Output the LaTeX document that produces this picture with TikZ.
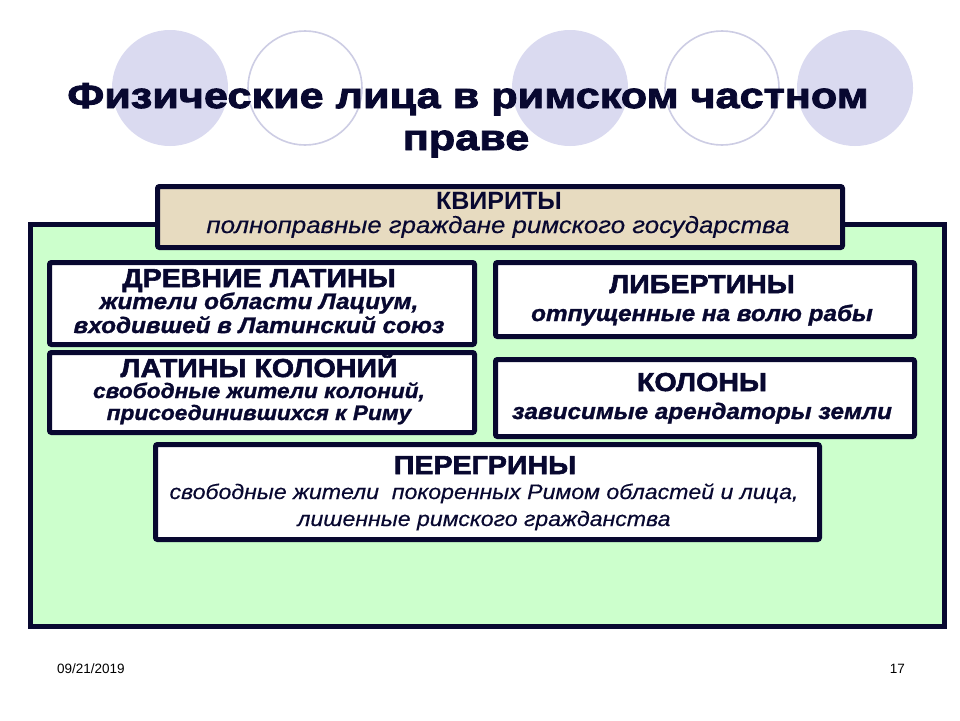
\documentclass[tikz,border=0pt]{standalone}
\usepackage{fontspec}
\setmainfont{Liberation Sans}
\newfontfamily\titlef{Liberation Sans}[FakeBold=2.5,FakeStretch=1.2]
\newfontfamily\headf{Liberation Sans}[FakeBold=2.2,FakeStretch=1.1]
\newfontfamily\subbf{Liberation Sans}[FakeBold=1.2,FakeStretch=1.08]
\newfontfamily\subrf{Liberation Sans}[FakeBold=0.4,FakeStretch=1.1]
\definecolor{navy}{RGB}{8,8,48}
\definecolor{lav}{RGB}{218,218,240}
\definecolor{lavline}{RGB}{205,205,228}
\definecolor{mint}{RGB}{204,255,204}
\definecolor{parch}{RGB}{231,219,192}
\tikzset{
  bigcirc/.style={circle, fill=lav, minimum size=116pt, inner sep=0},
  ringcirc/.style={circle, draw=lavline, line width=1.6pt, fill=white, minimum size=114pt, inner sep=0},
  catbox/.style={draw=navy, line width=5pt, fill=white, rounded corners=2pt, anchor=north west, inner sep=0},
  txt/.style={anchor=base, text=navy, inner sep=0},
  ttl/.style={txt, font=\titlef\bfseries\fontsize{36}{40}\selectfont},
  hd/.style={txt, font=\headf\bfseries\fontsize{26}{30}\selectfont},
  sub/.style={txt, font=\subbf\bfseries\itshape\fontsize{22.5}{24}\selectfont},
  subs/.style={txt, font=\subbf\bfseries\itshape\fontsize{21}{24}\selectfont},
  subr/.style={txt, font=\subrf\itshape\fontsize{21}{24}\selectfont},
  foot/.style={anchor=base, inner sep=0, text=black, font=\fontsize{13.5}{15}\selectfont}
}
\begin{document}
\begin{tikzpicture}[x=1pt,y=-1pt]
\useasboundingbox (0,0) rectangle (960,720);
\fill[white] (0,0) rectangle (960,720);
% decorative circles
\node[bigcirc] (c1) at (170,88) {};
\node[ringcirc] (c2) at (305,88) {};
\node[bigcirc] (c3) at (570,88) {};
\node[ringcirc] (c4) at (722,88) {};
\node[bigcirc] (c5) at (855,88) {};
% title
\node[ttl] (t1) at (468,108) {Физические лица в римском частном};
\node[ttl] (t2) at (466,150) {праве};
% green panel
\node[draw=navy, line width=5pt, fill=mint, anchor=north west, inner sep=0,
      minimum width=914pt, minimum height=402pt] (panel) at (28,222) {};
% quirites
\node[catbox, fill=parch, minimum width=685pt, minimum height=61pt] (kv) at (155,184) {};
\node[txt, font=\bfseries\fontsize{25}{30}\selectfont] (kv1) at (499,209) {КВИРИТЫ};
\node[txt, font=\subrf\itshape\fontsize{23.5}{26}\selectfont] (kv2) at (498,233) {полноправные граждане римского государства};
% ancient latins
\node[catbox, minimum width=425pt, minimum height=82pt] (dl) at (47,260) {};
\node[hd] (dl1) at (259,287) {ДРЕВНИЕ ЛАТИНЫ};
\node[sub] (dl2) at (259,309) {жители области Лациум,};
\node[sub] (dl3) at (259,333) {входившей в Латинский союз};
% colonial latins
\node[catbox, minimum width=425pt, minimum height=80pt] (lk) at (47,350) {};
\node[hd] (lk1) at (259,377) {ЛАТИНЫ КОЛОНИЙ};
\node[subs] (lk2) at (259,398) {свободные жители колоний,};
\node[subs] (lk3) at (259,420) {присоединившихся к Риму};
% libertines
\node[catbox, minimum width=419pt, minimum height=74pt] (lb) at (493,260) {};
\node[hd] (lb1) at (702,293) {ЛИБЕРТИНЫ};
\node[sub] (lb2) at (702,321) {отпущенные на волю рабы};
% coloni
\node[catbox, minimum width=419pt, minimum height=77pt] (ko) at (493,357) {};
\node[hd] (ko1) at (702,391) {КОЛОНЫ};
\node[sub] (ko2) at (702,419) {зависимые арендаторы земли};
% peregrines
\node[catbox, minimum width=664pt, minimum height=95pt] (pe) at (153,442) {};
\node[hd] (pe1) at (485,474) {ПЕРЕГРИНЫ};
\node[subr] (pe2) at (484,499) {свободные жители \ покоренных Римом областей и лица,};
\node[subr] (pe3) at (484,526) {лишенные римского гражданства};
% footer
\node[foot, anchor=base west] (date) at (57,673) {09/21/2019};
\node[foot, anchor=base east] (num) at (905,673) {17};
\end{tikzpicture}
\end{document}
